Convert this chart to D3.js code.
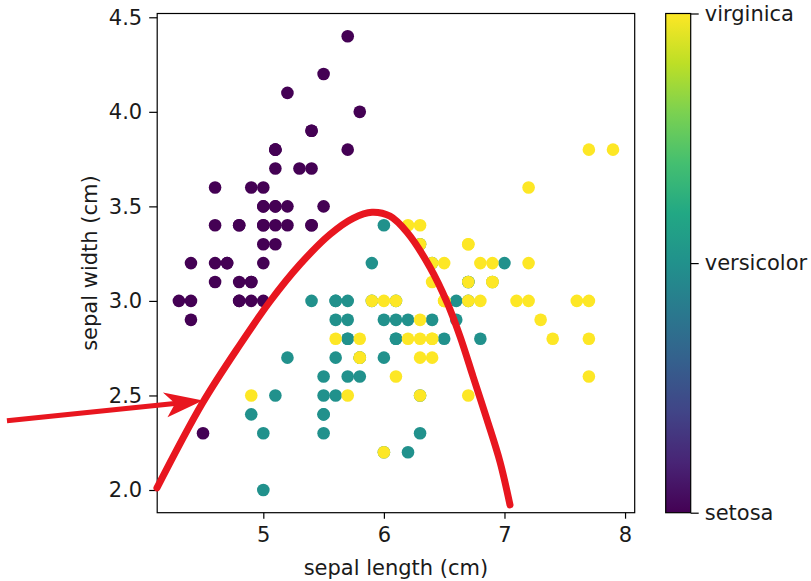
<!DOCTYPE html>
<html><head><meta charset="utf-8">
<script src="https://cdn.jsdelivr.net/npm/d3@7"></script>
<style>
body{margin:0;background:#fff;}
text{font-family:"DejaVu Sans",sans-serif;fill:#1a1a1a;}
</style></head>
<body><svg id="c" width="811" height="581"></svg>
<script>
const species = ["setosa","versicolor","virginica"];
const setosa = [[5.1,3.5],[4.9,3.0],[4.7,3.2],[4.6,3.1],[5.0,3.6],[5.4,3.9],[4.6,3.4],[5.0,3.4],[4.4,2.9],[4.9,3.1],[5.4,3.7],[4.8,3.4],[4.8,3.0],[4.3,3.0],[5.8,4.0],[5.7,4.4],[5.4,3.9],[5.1,3.5],[5.7,3.8],[5.1,3.8],[5.4,3.4],[5.1,3.7],[4.6,3.6],[5.1,3.3],[4.8,3.4],[5.0,3.0],[5.0,3.4],[5.2,3.5],[5.2,3.4],[4.7,3.2],[4.8,3.1],[5.4,3.4],[5.2,4.1],[5.5,4.2],[4.9,3.1],[5.0,3.2],[5.5,3.5],[4.9,3.6],[4.4,3.0],[5.1,3.4],[5.0,3.5],[4.5,2.3],[4.4,3.2],[5.0,3.5],[5.1,3.8],[4.8,3.0],[5.1,3.8],[4.6,3.2],[5.3,3.7],[5.0,3.3]];
const versicolor = [[7.0,3.2],[6.4,3.2],[6.9,3.1],[5.5,2.3],[6.5,2.8],[5.7,2.8],[6.3,3.3],[4.9,2.4],[6.6,2.9],[5.2,2.7],[5.0,2.0],[5.9,3.0],[6.0,2.2],[6.1,2.9],[5.6,2.9],[6.7,3.1],[5.6,3.0],[5.8,2.7],[6.2,2.2],[5.6,2.5],[5.9,3.2],[6.1,2.8],[6.3,2.5],[6.1,2.8],[6.4,2.9],[6.6,3.0],[6.8,2.8],[6.7,3.0],[6.0,2.9],[5.7,2.6],[5.5,2.4],[5.5,2.4],[5.8,2.7],[6.0,2.7],[5.4,3.0],[6.0,3.4],[6.7,3.1],[6.3,2.3],[5.6,3.0],[5.5,2.5],[5.5,2.6],[6.1,3.0],[5.8,2.6],[5.0,2.3],[5.6,2.7],[5.7,3.0],[5.7,2.9],[6.2,2.9],[5.1,2.5],[5.7,2.8]];
const virginica = [[6.3,3.3],[5.8,2.7],[7.1,3.0],[6.3,2.9],[6.5,3.0],[7.6,3.0],[4.9,2.5],[7.3,2.9],[6.7,2.5],[7.2,3.6],[6.5,3.2],[6.4,2.7],[6.8,3.0],[5.7,2.5],[5.8,2.8],[6.4,3.2],[6.5,3.0],[7.7,3.8],[7.7,2.6],[6.0,2.2],[6.9,3.2],[5.6,2.8],[7.7,2.8],[6.3,2.7],[6.7,3.3],[7.2,3.2],[6.2,2.8],[6.1,3.0],[6.4,2.8],[7.2,3.0],[7.4,2.8],[7.9,3.8],[6.4,2.8],[6.3,2.8],[6.1,2.6],[7.7,3.0],[6.3,3.4],[6.4,3.1],[6.0,3.0],[6.9,3.1],[6.7,3.1],[6.9,3.1],[5.8,2.7],[6.8,3.2],[6.7,3.3],[6.7,3.0],[6.3,2.5],[6.5,3.0],[6.2,3.4],[5.9,3.0]];
const xTicks = [5,6,7,8];
const yTicks = [2.0,2.5,3.0,3.5,4.0,4.5];
// hand-drawn red annotation (data coordinates)
const curvePts = [[4.118,2.011],[4.492,2.456],[4.807,2.769],[5.055,2.997],[5.304,3.193],[5.553,3.352],[5.744,3.437],[5.901,3.469],[6.051,3.448],[6.192,3.363],[6.383,3.177],[6.524,2.992],[6.632,2.811],[6.740,2.599],[6.856,2.371],[6.963,2.149],[7.046,1.921]];
const arrowPts = [[2.874,2.366],[4.285,2.459]];

const svg = d3.select("#c");
const L=157.2,R=634.7,T=13.5,B=512.7;
const FS=21;
const x = d3.scaleLinear().domain([4.12,8.08]).range([L,R]);
const y = d3.scaleLinear().domain([1.88,4.52]).range([B,T]);
const color = d3.scaleSequential(d3.interpolateViridis).domain([0,2]);

const pts = [];
[setosa,versicolor,virginica].forEach((arr,i)=>arr.forEach(d=>pts.push({x:d[0],y:d[1],c:i})));

svg.append("g").selectAll("circle").data(pts).join("circle")
  .attr("cx",d=>x(d.x)).attr("cy",d=>y(d.y)).attr("r",6.3)
  .attr("fill",d=>color(d.c));

// frame
svg.append("rect").attr("x",L).attr("y",T).attr("width",R-L).attr("height",B-T)
  .attr("fill","none").attr("stroke","#000").attr("stroke-width",1.2);

const xa = svg.append("g").attr("transform",`translate(0,${B})`)
  .call(d3.axisBottom(x).tickValues(xTicks).tickFormat(d3.format("d")).tickSize(6).tickPadding(5));
const ya = svg.append("g").attr("transform",`translate(${L},0)`)
  .call(d3.axisLeft(y).tickValues(yTicks).tickFormat(d3.format(".1f")).tickSize(8).tickPadding(7));
[xa,ya].forEach(a=>{a.select(".domain").remove();a.selectAll("line").attr("stroke","#000").attr("stroke-width",1.2);
  a.selectAll("text").attr("font-size",FS).attr("fill","#1a1a1a").attr("font-family","DejaVu Sans");});
xa.selectAll("text").attr("dy","0.88em");

svg.append("text").attr("x",(L+R)/2).attr("y",575).attr("text-anchor","middle").attr("font-size",FS).text("sepal length (cm)");
svg.append("text").attr("transform",`translate(97,${(T+B)/2}) rotate(-90)`).attr("text-anchor","middle").attr("font-size",FS).text("sepal width (cm)");

// colorbar
const cbL=665.7,cbW=25;
const defs = svg.append("defs");
const grad = defs.append("linearGradient").attr("id","vir").attr("x1",0).attr("y1",1).attr("x2",0).attr("y2",0);
d3.range(0,1.0001,0.1).forEach(t=>grad.append("stop").attr("offset",t).attr("stop-color",d3.interpolateViridis(t)));
svg.append("rect").attr("x",cbL).attr("y",T).attr("width",cbW).attr("height",B-T).attr("fill","url(#vir)")
  .attr("stroke","#000").attr("stroke-width",1.2);
const cy = d3.scalePoint().domain(species).range([B,T]);
const ca = svg.append("g").attr("transform",`translate(${cbL+cbW},0)`).call(d3.axisRight(cy).tickSize(8).tickPadding(6));
ca.select(".domain").remove();
ca.selectAll("line").attr("stroke","#000").attr("stroke-width",1.2);
ca.selectAll("text").attr("font-size",FS).attr("fill","#1a1a1a").attr("font-family","DejaVu Sans");

// red annotations
const red="#e8161f";
defs.append("marker").attr("id","ah").attr("viewBox","-40 -15 42 30").attr("refX",-25).attr("refY",0)
  .attr("markerWidth",42).attr("markerHeight",30).attr("markerUnits","userSpaceOnUse").attr("orient","auto")
  .append("path").attr("d","M1,0 L-38,-12 L-27,0 L-36,13 Z").attr("fill",red);
const line = d3.line().x(d=>x(d[0])).y(d=>y(d[1]));
svg.append("path").attr("d",line.curve(d3.curveCatmullRom.alpha(0.5))(curvePts)).attr("fill","none")
  .attr("stroke",red).attr("stroke-width",7).attr("stroke-linecap","round").attr("stroke-linejoin","round");
const aline = d3.line().x(d=>x(d[0])).y(d=>y(d[1]));
svg.append("path").attr("d",aline(arrowPts)).attr("fill","none")
  .attr("stroke",red).attr("stroke-width",5).attr("marker-end","url(#ah)");
</script></body></html>
